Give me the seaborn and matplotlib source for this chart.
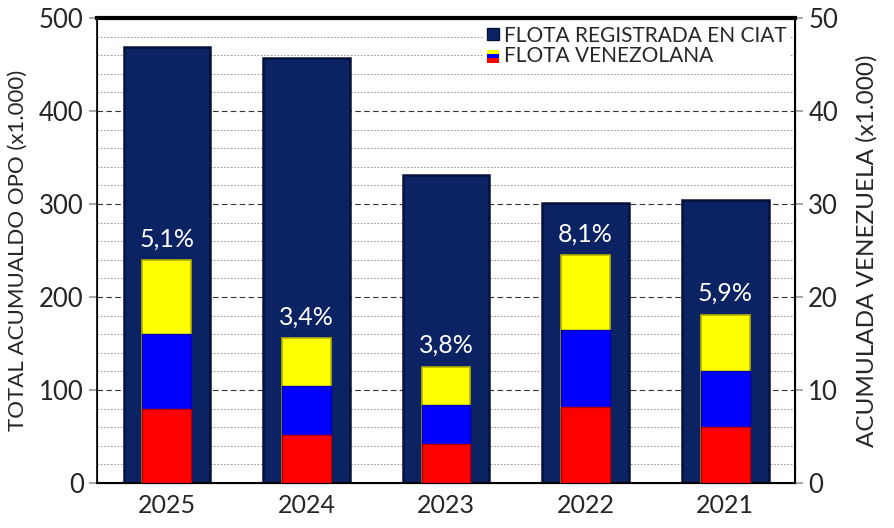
import matplotlib
matplotlib.use("Agg")
import matplotlib.pyplot as plt
import seaborn as sns
from matplotlib.patches import Patch, Rectangle
from matplotlib.ticker import MultipleLocator

# datos (x1.000)
anios = ["2025", "2024", "2023", "2022", "2021"]
flota_ciat = [469, 457, 331, 301, 304]
rojo = [8.0, 5.2, 4.2, 8.2, 6.0]
azul = [8.0, 5.2, 4.2, 8.2, 6.0]
amarillo = [8.0, 5.2, 4.1, 8.1, 6.1]
porcentajes = ["5,1%", "3,4%", "3,8%", "8,1%", "5,9%"]

navy = "#0b2263"
fuente = ["Lato", "DejaVu Sans"]

sns.set_style("white")
plt.rcParams["font.family"] = fuente

fig = plt.figure(figsize=(8.94, 5.28), dpi=100)
ax = fig.add_axes([0.1085, 0.0852, 0.7808, 0.8807])

# barras de flota registrada
sns.barplot(x=anios, y=flota_ciat, order=anios, color=navy, width=0.62,
            saturation=1, edgecolor="#05113a", linewidth=1.8, ax=ax, zorder=2)

ax.set_ylim(0, 500)
ax.set_xlim(-0.5, 4.5)
ax.yaxis.set_major_locator(MultipleLocator(100))
ax.yaxis.set_minor_locator(MultipleLocator(20))
ax.grid(which="major", axis="y", linestyle=(0, (5, 3)), color="#333333", linewidth=0.8, zorder=0)
ax.grid(which="minor", axis="y", linestyle=(0, (2, 2)), color="#888888", linewidth=0.6, zorder=0)
ax.set_axisbelow(True)
ax.set_ylabel("TOTAL ACUMUALDO OPO (x1.000)", fontsize=16, labelpad=8)
ax.set_xlabel("")
ax.tick_params(axis="y", which="major", length=6, color="#999999", labelsize=18.5, width=1.2)
ax.tick_params(axis="y", which="minor", length=0)
ax.tick_params(axis="x", length=0, labelsize=18, pad=8)

# eje venezuela
ax2 = ax.twinx()
stack_total = [r + a + m for r, a, m in zip(rojo, azul, amarillo)]
stack_medio = [r + a for r, a in zip(rojo, azul)]
sns.barplot(x=anios, y=stack_total, order=anios, color="#ffff00", width=0.35,
            saturation=1, edgecolor="#b5b000", linewidth=1.2, ax=ax2, zorder=3)
sns.barplot(x=anios, y=stack_medio, order=anios, color="#0000ff", width=0.35,
            saturation=1, edgecolor="#0000b0", linewidth=1.0, ax=ax2, zorder=4)
sns.barplot(x=anios, y=rojo, order=anios, color="#ff0000", width=0.35,
            saturation=1, edgecolor="#b00000", linewidth=1.0, ax=ax2, zorder=5)
ax2.set_ylim(0, 50)
ax2.set_xlim(-0.5, 4.5)
ax2.yaxis.set_major_locator(MultipleLocator(10))
ax2.set_ylabel("ACUMULADA VENEZUELA (x1.000)", fontsize=17.5, labelpad=13)
ax2.tick_params(axis="y", length=6, color="#999999", labelsize=18.5, width=1.2)
ax2.grid(False)

for i, (v, txt) in enumerate(zip(stack_total, porcentajes)):
    ax2.annotate(txt, (i, v), xytext=(0, 7), textcoords="offset points",
                 ha="center", va="bottom", color="white", fontsize=18, zorder=6)

for a in (ax, ax2):
    for s in a.spines.values():
        s.set_color("black")
ax2.spines["top"].set_linewidth(3)
ax2.spines["left"].set_linewidth(1.2)
ax2.spines["right"].set_linewidth(1.5)
ax2.spines["bottom"].set_linewidth(1.5)


# leyenda con bandera
class HandlerBandera:
    def legend_artist(self, legend, orig_handle, fontsize, handlebox):
        x0, y0 = handlebox.xdescent, handlebox.ydescent
        w, h = handlebox.width, handlebox.height
        cols = ["#ff0000", "#0000ff", "#ffff00"]
        for k, c in enumerate(cols):
            r = Rectangle((x0, y0 + k * h / 3), w, h / 3, facecolor=c,
                          edgecolor="none", transform=handlebox.get_transform())
            handlebox.add_artist(r)
        return r


bandera = Patch(facecolor="#ffff00")
leg = ax2.legend([Patch(facecolor=navy, edgecolor="#05113a"), bandera],
                 ["FLOTA REGISTRADA EN CIAT", "FLOTA VENEZOLANA"],
                 handler_map={bandera: HandlerBandera()},
                 loc="upper right", bbox_to_anchor=(0.995, 0.995), fontsize=15,
                 frameon=True, fancybox=False, edgecolor="white", framealpha=1,
                 handlelength=0.55, handleheight=0.55, handletextpad=0.25,
                 labelspacing=0.0, borderpad=0.15, borderaxespad=0.1)
leg.set_zorder(10)

fig.savefig("out.png", dpi=100)
